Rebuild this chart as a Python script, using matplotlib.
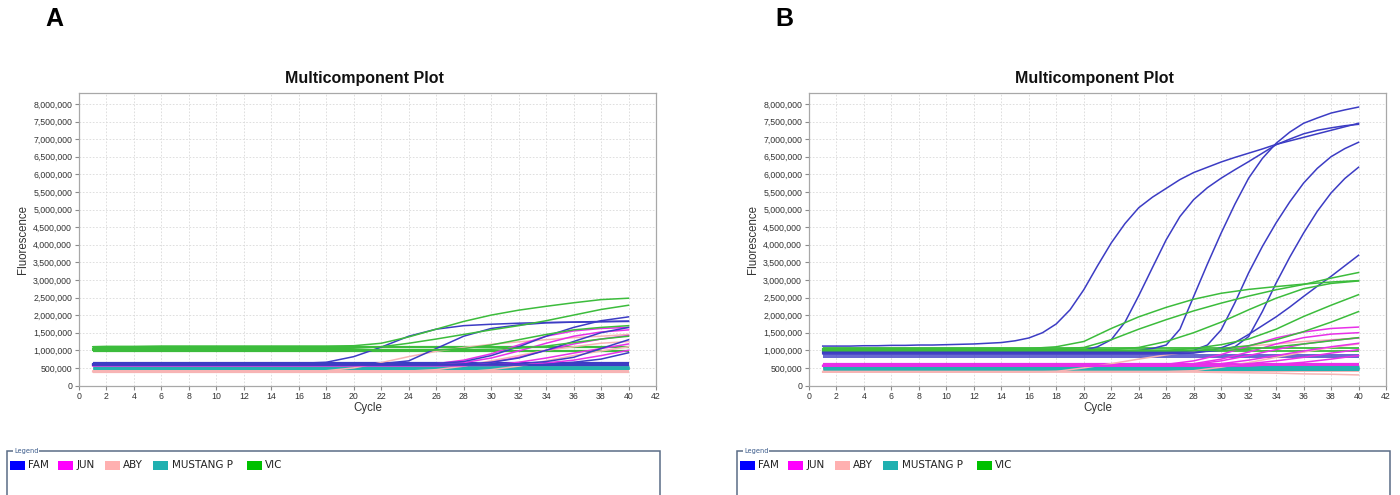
import matplotlib
matplotlib.use("Agg")
import matplotlib.pyplot as plt
from matplotlib.patches import Rectangle
from matplotlib.ticker import FuncFormatter, MultipleLocator

# ---------------- data (fluorescence in millions) ----------------
CYCLES = [1, 2, 4, 6, 8, 10, 12, 14, 16, 18, 20, 22, 24, 26, 28, 30, 32, 34, 36, 38, 40]
CYCLES_ALL = list(range(1, 41))

DYES = ["FAM", "JUN", "ABY", "MUSTANG P", "VIC"]
DYE_COLORS = ["#0000ff", "#ff00ff", "#ffb0b0", "#20b0b0", "#00c000"]
LINE_COLORS = ["#3c3cc4", "#e830e8", "#f7b4b4", "#22b0b0", "#3cbc3c"]

# ---- Panel A (values at CYCLES) ----
A_FAM = [
    [0.62, 0.62, 0.62, 0.62, 0.62, 0.62, 0.62, 0.62, 0.63, 0.66, 0.82, 1.09, 1.40, 1.60, 1.70, 1.74, 1.77, 1.79, 1.80, 1.81, 1.82],
    [0.60, 0.60, 0.60, 0.60, 0.60, 0.60, 0.60, 0.60, 0.60, 0.60, 0.60, 0.62, 0.70, 1.05, 1.40, 1.62, 1.72, 1.78, 1.80, 1.82, 1.83],
    [0.61, 0.61, 0.61, 0.61, 0.61, 0.61, 0.61, 0.61, 0.61, 0.61, 0.61, 0.61, 0.61, 0.63, 0.68, 0.85, 1.10, 1.40, 1.65, 1.84, 1.95],
    [0.59, 0.59, 0.59, 0.59, 0.59, 0.59, 0.59, 0.59, 0.59, 0.59, 0.59, 0.59, 0.59, 0.59, 0.61, 0.66, 0.78, 1.00, 1.25, 1.50, 1.65],
    [0.60, 0.60, 0.60, 0.60, 0.60, 0.60, 0.60, 0.60, 0.60, 0.60, 0.60, 0.60, 0.60, 0.60, 0.60, 0.60, 0.62, 0.68, 0.80, 1.05, 1.30],
    [0.58, 0.58, 0.58, 0.58, 0.58, 0.58, 0.58, 0.58, 0.58, 0.58, 0.58, 0.58, 0.58, 0.58, 0.58, 0.58, 0.58, 0.60, 0.66, 0.75, 0.93],
]
A_FAM_FLAT = [0.57, 0.63]

A_JUN = [
    [0.57, 0.57, 0.57, 0.57, 0.57, 0.57, 0.57, 0.57, 0.57, 0.57, 0.57, 0.57, 0.57, 0.62, 0.72, 0.90, 1.15, 1.40, 1.55, 1.62, 1.65],
    [0.58, 0.58, 0.58, 0.58, 0.58, 0.58, 0.58, 0.58, 0.58, 0.58, 0.58, 0.58, 0.58, 0.58, 0.65, 0.78, 0.98, 1.20, 1.40, 1.52, 1.58],
    [0.56, 0.56, 0.56, 0.56, 0.56, 0.56, 0.56, 0.56, 0.56, 0.56, 0.56, 0.56, 0.56, 0.56, 0.56, 0.66, 0.80, 1.00, 1.18, 1.32, 1.42],
    [0.57, 0.57, 0.57, 0.57, 0.57, 0.57, 0.57, 0.57, 0.57, 0.57, 0.57, 0.57, 0.57, 0.57, 0.57, 0.57, 0.66, 0.78, 0.92, 1.05, 1.18],
    [0.58, 0.58, 0.58, 0.58, 0.58, 0.58, 0.58, 0.58, 0.58, 0.58, 0.58, 0.58, 0.58, 0.58, 0.58, 0.58, 0.58, 0.64, 0.72, 0.85, 1.00],
]
A_JUN_FLAT = [0.55, 0.60]

A_ABY = [
    [0.40, 0.40, 0.40, 0.40, 0.40, 0.40, 0.40, 0.40, 0.40, 0.42, 0.50, 0.65, 0.82, 0.97, 1.08, 1.17, 1.24, 1.30, 1.36, 1.40, 1.45],
    [0.41, 0.41, 0.41, 0.41, 0.41, 0.41, 0.41, 0.41, 0.41, 0.41, 0.41, 0.41, 0.41, 0.45, 0.55, 0.70, 0.85, 1.00, 1.10, 1.20, 1.25],
    [0.39, 0.39, 0.39, 0.39, 0.39, 0.39, 0.39, 0.39, 0.39, 0.39, 0.39, 0.39, 0.39, 0.39, 0.39, 0.45, 0.55, 0.70, 0.85, 0.98, 1.10],
]
A_ABY_FLAT = [0.37, 0.43]

A_MUS_FLAT = [0.49, 0.51, 0.53]

A_VIC = [
    [1.10, 1.11, 1.11, 1.12, 1.12, 1.12, 1.12, 1.12, 1.12, 1.12, 1.13, 1.20, 1.38, 1.60, 1.82, 2.00, 2.14, 2.25, 2.35, 2.44, 2.48],
    [1.05, 1.05, 1.05, 1.05, 1.05, 1.05, 1.05, 1.05, 1.05, 1.05, 1.06, 1.10, 1.20, 1.32, 1.45, 1.58, 1.70, 1.84, 2.00, 2.16, 2.28],
    [1.00, 1.00, 1.00, 1.00, 1.00, 1.00, 1.00, 1.00, 1.00, 1.00, 1.00, 1.00, 1.00, 1.01, 1.05, 1.15, 1.30, 1.45, 1.58, 1.65, 1.70],
    [1.02, 1.02, 1.02, 1.02, 1.02, 1.02, 1.02, 1.02, 1.02, 1.02, 1.02, 1.02, 1.02, 1.02, 1.02, 1.03, 1.06, 1.12, 1.22, 1.32, 1.40],
]
A_VIC_FLAT = [0.99, 1.08]

# ---- Panel B ----
# FAM curves of panel B: one value per cycle (CYCLES_ALL)
B_FAM = [
    [1.12, 1.12, 1.12, 1.13, 1.13, 1.14, 1.14, 1.15, 1.15, 1.16, 1.17, 1.18, 1.20, 1.22, 1.27, 1.35, 1.50, 1.75, 2.15, 2.72,
     3.40, 4.05, 4.60, 5.05, 5.35, 5.60, 5.85, 6.05, 6.20, 6.35, 6.48, 6.60, 6.72, 6.85, 6.95, 7.05, 7.15, 7.25, 7.35, 7.45],
    [0.95, 0.95, 0.95, 0.95, 0.95, 0.95, 0.95, 0.95, 0.95, 0.95, 0.95, 0.95, 0.95, 0.95, 0.95, 0.95, 0.95, 0.95, 0.96, 1.00,
     1.10, 1.30, 1.80, 2.55, 3.35, 4.14, 4.80, 5.28, 5.62, 5.89, 6.13, 6.36, 6.60, 6.84, 7.00, 7.15, 7.25, 7.32, 7.38, 7.42],
    [0.97, 0.97, 0.97, 0.97, 0.97, 0.97, 0.97, 0.97, 0.97, 0.97, 0.97, 0.97, 0.97, 0.97, 0.97, 0.97, 0.97, 0.97, 0.97, 0.97,
     0.97, 0.97, 0.98, 1.00, 1.05, 1.15, 1.60, 2.53, 3.45, 4.33, 5.15, 5.89, 6.45, 6.88, 7.20, 7.45, 7.60, 7.74, 7.83, 7.91],
    [0.93, 0.93, 0.93, 0.93, 0.93, 0.93, 0.93, 0.93, 0.93, 0.93, 0.93, 0.93, 0.93, 0.93, 0.93, 0.93, 0.93, 0.93, 0.93, 0.93,
     0.93, 0.93, 0.93, 0.93, 0.93, 0.93, 0.95, 1.00, 1.15, 1.58, 2.35, 3.20, 3.95, 4.62, 5.22, 5.75, 6.17, 6.50, 6.73, 6.91],
    [0.95, 0.95, 0.95, 0.95, 0.95, 0.95, 0.95, 0.95, 0.95, 0.95, 0.95, 0.95, 0.95, 0.95, 0.95, 0.95, 0.95, 0.95, 0.95, 0.95,
     0.95, 0.95, 0.95, 0.95, 0.95, 0.95, 0.95, 0.95, 0.97, 1.00, 1.10, 1.39, 2.10, 2.91, 3.65, 4.33, 4.95, 5.47, 5.88, 6.20],
    [0.90, 0.90, 0.90, 0.90, 0.90, 0.90, 0.90, 0.90, 0.90, 0.90, 0.90, 0.90, 0.90, 0.90, 0.90, 0.90, 0.90, 0.90, 0.90, 0.90,
     0.90, 0.90, 0.90, 0.90, 0.90, 0.90, 0.91, 0.92, 0.98, 1.07, 1.22, 1.45, 1.70, 1.95, 2.23, 2.53, 2.82, 3.10, 3.40, 3.70],
]
B_FAM_FLAT = [0.80, 0.86]

# remaining panel-B curves: values at CYCLES
B_JUN = [
    [0.56, 0.56, 0.56, 0.56, 0.56, 0.56, 0.56, 0.56, 0.56, 0.56, 0.56, 0.56, 0.56, 0.60, 0.70, 0.88, 1.12, 1.35, 1.52, 1.62, 1.66],
    [0.57, 0.57, 0.57, 0.57, 0.57, 0.57, 0.57, 0.57, 0.57, 0.57, 0.57, 0.57, 0.57, 0.57, 0.62, 0.75, 0.95, 1.18, 1.36, 1.46, 1.50],
    [0.55, 0.55, 0.55, 0.55, 0.55, 0.55, 0.55, 0.55, 0.55, 0.55, 0.55, 0.55, 0.55, 0.55, 0.60, 0.70, 0.85, 1.02, 1.18, 1.28, 1.35],
    [0.56, 0.56, 0.56, 0.56, 0.56, 0.56, 0.56, 0.56, 0.56, 0.56, 0.56, 0.56, 0.56, 0.56, 0.56, 0.62, 0.72, 0.85, 0.98, 1.10, 1.20],
    [0.57, 0.57, 0.57, 0.57, 0.57, 0.57, 0.57, 0.57, 0.57, 0.57, 0.57, 0.57, 0.57, 0.57, 0.57, 0.57, 0.62, 0.70, 0.80, 0.92, 1.02],
    [0.55, 0.55, 0.55, 0.55, 0.55, 0.55, 0.55, 0.55, 0.55, 0.55, 0.55, 0.55, 0.55, 0.55, 0.55, 0.55, 0.55, 0.60, 0.66, 0.75, 0.85],
]
B_JUN_FLAT = [0.53, 0.58, 0.61]

B_ABY = [
    [0.38, 0.38, 0.38, 0.38, 0.38, 0.38, 0.38, 0.38, 0.38, 0.40, 0.50, 0.62, 0.75, 0.87, 0.97, 1.05, 1.12, 1.18, 1.25, 1.30, 1.35],
    [0.40, 0.40, 0.40, 0.40, 0.40, 0.40, 0.40, 0.40, 0.40, 0.40, 0.40, 0.40, 0.40, 0.40, 0.42, 0.52, 0.65, 0.80, 0.95, 1.08, 1.18],
    [0.38, 0.38, 0.38, 0.38, 0.38, 0.38, 0.38, 0.38, 0.38, 0.38, 0.38, 0.38, 0.38, 0.38, 0.38, 0.37, 0.36, 0.35, 0.33, 0.32, 0.30],
]
B_ABY_FLAT = [0.42, 0.45]

B_MUS_FLAT = [0.46, 0.49, 0.52]

B_VIC = [
    [1.05, 1.05, 1.05, 1.05, 1.05, 1.05, 1.05, 1.05, 1.05, 1.10, 1.25, 1.62, 1.95, 2.22, 2.45, 2.62, 2.73, 2.81, 2.88, 2.94, 2.98],
    [1.03, 1.03, 1.03, 1.03, 1.03, 1.03, 1.03, 1.03, 1.03, 1.03, 1.08, 1.30, 1.60, 1.87, 2.12, 2.34, 2.54, 2.72, 2.87, 3.05, 3.21],
    [1.02, 1.02, 1.02, 1.02, 1.02, 1.02, 1.02, 1.02, 1.02, 1.02, 1.02, 1.02, 1.08, 1.25, 1.50, 1.80, 2.15, 2.48, 2.75, 2.90, 2.97],
    [1.00, 1.00, 1.00, 1.00, 1.00, 1.00, 1.00, 1.00, 1.00, 1.00, 1.00, 1.00, 1.00, 1.00, 1.05, 1.16, 1.32, 1.60, 1.96, 2.28, 2.58],
    [0.99, 0.99, 0.99, 0.99, 0.99, 0.99, 0.99, 0.99, 0.99, 0.99, 0.99, 0.99, 0.99, 0.99, 0.99, 1.05, 1.13, 1.30, 1.53, 1.80, 2.10],
    [1.00, 1.00, 1.00, 1.00, 1.00, 1.00, 1.00, 1.00, 1.00, 1.00, 1.00, 1.00, 1.00, 1.00, 1.00, 1.00, 1.03, 1.10, 1.18, 1.27, 1.36],
]
B_VIC_FLAT = [0.97, 1.06]

Y_TICK_STEP = 500000
TITLE = "Multicomponent Plot"
X_LABEL = "Cycle"
Y_LABEL = "Fluorescence"
PANEL_LABELS = ["A", "B"]

# ---------------- drawing ----------------
W, H = 1400, 495
plt.rcParams["font.family"] = ["Liberation Sans", "DejaVu Sans"]

fig = plt.figure(figsize=(W / 100, H / 100), dpi=100)


def fx(px):
    return px / W


def fy(py):
    return 1 - py / H


def draw_panel(ax, curves, curve_x, flats, flat_lw):
    order = [2, 1, 0, 4, 3]   # ABY, JUN, FAM, VIC, MUSTANG
    for di in order:
        col = LINE_COLORS[di]
        for lvl in flats[di]:
            ax.plot([CYCLES[0], CYCLES[-1]], [lvl * 1e6, lvl * 1e6], color=col,
                    lw=flat_lw[di], solid_capstyle="butt", zorder=2)
        for c in curves[di]:
            ax.plot(curve_x[di], [v * 1e6 for v in c], color=col, lw=1.1, zorder=3)
    ax.set_xlim(0, 42)
    ax.set_ylim(0, 8.31e6)
    ax.xaxis.set_major_locator(MultipleLocator(2))
    ax.yaxis.set_major_locator(MultipleLocator(Y_TICK_STEP))
    ax.yaxis.set_major_formatter(FuncFormatter(lambda v, p: f"{int(round(v)):,}"))
    ax.grid(True, color="#d9d9d9", lw=0.6, linestyle=(0, (2, 2)))
    ax.set_axisbelow(True)
    for s in ax.spines.values():
        s.set_color("#a8a8a8")
        s.set_linewidth(0.9)
    ax.tick_params(axis="both", labelsize=6.3, colors="#8a8a8a", labelcolor="#333333",
                   length=3, width=0.8, pad=2)


panels = [
    (79, [A_FAM, A_JUN, A_ABY, [], A_VIC], [CYCLES] * 5,
     [A_FAM_FLAT, A_JUN_FLAT, A_ABY_FLAT, A_MUS_FLAT, A_VIC_FLAT],
     [1.6, 1.6, 1.6, 2.0, 1.6]),
    (809, [B_FAM, B_JUN, B_ABY, [], B_VIC], [CYCLES_ALL, CYCLES, CYCLES, CYCLES, CYCLES],
     [B_FAM_FLAT, B_JUN_FLAT, B_ABY_FLAT, B_MUS_FLAT, B_VIC_FLAT],
     [1.1, 1.6, 1.4, 2.2, 1.3]),
]

ax_top, ax_bot = 93, 385.5
ax_w = 577
for i, (left, curves, cx_list, flats, flw) in enumerate(panels):
    ax = fig.add_axes([fx(left), fy(ax_bot), fx(ax_w), (ax_bot - ax_top) / H])
    draw_panel(ax, curves, cx_list, flats, flw)
    cx = left + ax_w / 2
    fig.text(fx(cx - 3), fy(79), TITLE, ha="center", va="center", fontsize=11.5,
             fontweight="bold", color="#111111")
    fig.text(fx(cx), fy(408), X_LABEL, ha="center", va="center", fontsize=8.3, color="#333333")
    fig.text(fx(left - 56), fy(240), Y_LABEL, ha="center", va="center", rotation=90,
             fontsize=8.3, color="#333333")
    fig.text(fx(left - 25), fy(19.5), PANEL_LABELS[i], ha="center", va="center",
             fontsize=18, fontweight="bold", color="#000000")

    # legend box
    off = left - 79
    lx0, lx1, ly0 = 7 + off, 660 + off, 451
    fig.add_artist(Rectangle((fx(lx0), fy(H + 5)), fx(lx1 - lx0), (H + 5 - ly0) / H,
                             transform=fig.transFigure, fill=False, edgecolor="#5a6c86",
                             lw=1.1))
    fig.text(fx(lx0 + 7), fy(ly0), "Legend", ha="left", va="center", fontsize=4.8,
             color="#3a5a8a", family="DejaVu Sans",
             bbox=dict(facecolor="white", edgecolor="none", pad=0.6))
    sq_x = [10, 58, 105, 153, 247]
    tx_x = [28, 77, 123, 172, 265]
    for k, name in enumerate(DYES):
        fig.add_artist(Rectangle((fx(sq_x[k] + off), fy(470)), fx(15), 9.5 / H,
                                 transform=fig.transFigure, facecolor=DYE_COLORS[k],
                                 edgecolor="none"))
        fig.text(fx(tx_x[k] + off), fy(465.5), name, ha="left", va="center",
                 fontsize=7.5, color="#222222", family="DejaVu Sans")

fig.savefig("out.png", dpi=100, facecolor="white")
